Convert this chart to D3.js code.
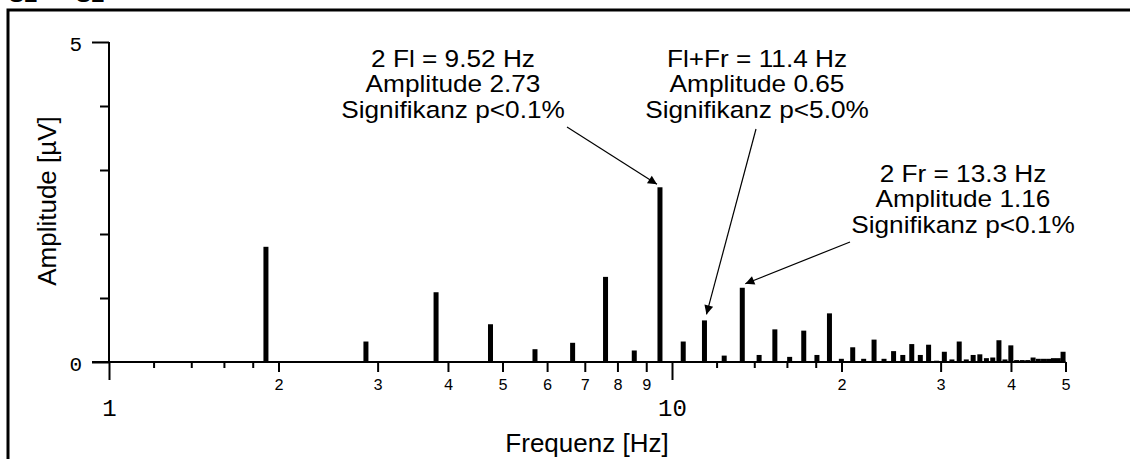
<!DOCTYPE html>
<html>
<head>
<meta charset="utf-8">
<script src="https://cdn.jsdelivr.net/npm/d3@7"></script>
<style>
  body { margin: 0; background: #fff; overflow: hidden; }
  .num { font-family: "Liberation Mono", "Courier New", monospace; fill: #000; }
  .lbl { font-family: "Liberation Sans", Arial, sans-serif; fill: #000; }
</style>
</head>
<body>
<script>
// peaks of the spectrum: frequency [Hz] and amplitude [uV]
var freqs = [1.90, 2.86, 3.81, 4.76, 5.71, 6.66, 7.62, 8.57, 9.52, 10.47,
  11.42, 12.38, 13.33, 14.28, 15.23, 16.18, 17.14, 18.09, 19.04, 19.99,
  20.94, 21.90, 22.85, 23.80, 24.75, 25.70, 26.66, 27.61, 28.56, 29.51,
  30.46, 31.42, 32.37, 33.32, 34.27, 35.22, 36.18, 37.13, 38.08, 39.03,
  39.98, 40.94, 41.89, 42.84, 43.79, 44.74, 45.70, 46.65, 47.60, 48.55, 49.50];
var amps = [1.80, 0.32, 1.09, 0.59, 0.20, 0.30, 1.33, 0.18, 2.73, 0.32,
  0.65, 0.10, 1.16, 0.11, 0.51, 0.08, 0.49, 0.11, 0.76, 0.05,
  0.23, 0.05, 0.35, 0.05, 0.17, 0.11, 0.28, 0.11, 0.27, 0.02,
  0.16, 0.04, 0.32, 0.04, 0.11, 0.12, 0.06, 0.07, 0.34, 0.04,
  0.26, 0.03, 0.03, 0.03, 0.07, 0.05, 0.05, 0.05, 0.06, 0.06, 0.16];

var decadeTicks = [1, 10];
var labelTicks = [2, 3, 4, 5, 6, 7, 8, 9, 20, 30, 40, 50];
var minorTicks = [1.2, 1.4, 1.6, 1.8, 12, 14, 16, 18];
var yLabelTicks = [0, 5];
var yMinorTicks = [1, 2, 3, 4];

// annotated peaks
var noteFreqs = [9.52, 11.42, 13.33];
var noteAmps = [2.73, 0.65, 1.16];
var noteLines = [
  ["2 Fl = 9.52 Hz", "Amplitude 2.73", "Signifikanz p<0.1%"],
  ["Fl+Fr = 11.4 Hz", "Amplitude 0.65", "Signifikanz p<5.0%"],
  ["2 Fr = 13.3 Hz", "Amplitude 1.16", "Signifikanz p<0.1%"]
];

var W = 1130, H = 459;
var svg = d3.select("body").append("svg")
  .attr("width", W).attr("height", H);

var x = d3.scaleLog().domain([1, 50]).range([109, 109 + 563 * Math.log10(50)]);
var y = d3.scaleLinear().domain([0, 5]).range([362, 42]);

// outer frame (only top and left visible)
svg.append("path")
  .attr("d", "M8," + (H + 5) + "V10H" + (W + 5))
  .attr("fill", "none").attr("stroke", "#000").attr("stroke-width", 3);

// heading cut off by the top edge
svg.append("text").attr("class", "lbl").attr("x", 9).attr("y", 2)
  .style("font-size", "22px").style("font-weight", "bold").attr("fill", "#555").text("SL");
svg.append("text").attr("class", "lbl").attr("x", 76).attr("y", 2)
  .style("font-size", "22px").style("font-weight", "bold").attr("fill", "#555").text("SL");

function styleAxis(g) {
  g.select(".domain").remove();
  g.selectAll(".tick line").attr("stroke", "#000").attr("stroke-width", 2);
}

// x axis
svg.append("line").attr("x1", 92).attr("x2", x(50)).attr("y1", y(0)).attr("y2", y(0))
  .attr("stroke", "#000").attr("stroke-width", 2);

svg.append("g").attr("transform", "translate(0," + y(0) + ")")
  .call(d3.axisBottom(x).tickValues(minorTicks).tickSize(6).tickFormat(""))
  .call(styleAxis);

svg.append("g").attr("transform", "translate(0," + y(0) + ")")
  .call(d3.axisBottom(x).tickValues(labelTicks).tickSize(10).tickPadding(7)
    .tickFormat(function(d) { return d >= 10 ? d / 10 : d; }))
  .call(styleAxis)
  .selectAll("text").attr("class", "num").style("font-size", "16px");

svg.append("g").attr("transform", "translate(0," + y(0) + ")")
  .call(d3.axisBottom(x).tickValues(decadeTicks).tickSize(18).tickPadding(19)
    .tickFormat(d3.format("d")))
  .call(styleAxis)
  .selectAll("text").attr("class", "num").style("font-size", "24px");

// y axis
svg.append("line").attr("x1", x(1)).attr("x2", x(1)).attr("y1", y(5)).attr("y2", y(0))
  .attr("stroke", "#000").attr("stroke-width", 2);

svg.append("g").attr("transform", "translate(" + x(1) + ",0)")
  .call(d3.axisLeft(y).tickValues(yMinorTicks).tickSize(9).tickFormat(""))
  .call(styleAxis);

svg.append("g").attr("transform", "translate(" + x(1) + ",0)")
  .call(d3.axisLeft(y).tickValues(yLabelTicks).tickSize(17).tickPadding(10)
    .tickFormat(d3.format("d")))
  .call(styleAxis)
  .selectAll("text").attr("class", "num").style("font-size", "21px")
  .attr("dy", "0.4em");

// bars
svg.append("g").selectAll("rect")
  .data(freqs)
  .enter().append("rect")
  .attr("x", function(d) { return x(d) - 2.5; })
  .attr("width", 5)
  .attr("y", function(d, i) { return y(amps[i]); })
  .attr("height", function(d, i) { return y(0) - y(amps[i]); })
  .attr("fill", "#000");

// axis titles
svg.append("text").attr("class", "lbl")
  .attr("x", 587).attr("y", 452)
  .attr("text-anchor", "middle").style("font-size", "26px")
  .text("Frequenz [Hz]");

svg.append("text").attr("class", "lbl")
  .attr("transform", "translate(56,201) rotate(-90)")
  .attr("text-anchor", "middle").style("font-size", "26px")
  .text("Amplitude [µV]");

// annotations
svg.append("defs").append("marker")
  .attr("id", "head").attr("viewBox", "0 0 10 10")
  .attr("refX", 10).attr("refY", 5)
  .attr("markerWidth", 15).attr("markerHeight", 9)
  .attr("markerUnits", "userSpaceOnUse")
  .attr("orient", "auto")
  .append("path").attr("d", "M0,0L10,5L0,10Z").attr("fill", "#000");

var noteText = [[453, 67], [757, 67], [963, 182]];
var noteStart = [[567, 127], [756, 129], [850, 242]];
var noteTipOff = [[-3, -3], [2, -6], [3, -4]];

noteLines.forEach(function(lines, k) {
  // text a little wider than the plain font
  var t = svg.append("g")
    .attr("transform", "translate(" + noteText[k][0] + ",0) scale(1.07,1)")
    .append("text").attr("class", "lbl")
    .attr("text-anchor", "middle").style("font-size", "24.5px");
  lines.forEach(function(s, j) {
    t.append("tspan").attr("x", 0).attr("y", noteText[k][1] + j * 25.5).text(s);
  });
  svg.append("line")
    .attr("x1", noteStart[k][0]).attr("y1", noteStart[k][1])
    .attr("x2", x(noteFreqs[k]) + noteTipOff[k][0])
    .attr("y2", y(noteAmps[k]) + noteTipOff[k][1])
    .attr("stroke", "#000").attr("stroke-width", 1.2)
    .attr("marker-end", "url(#head)");
});
</script>
</body>
</html>
